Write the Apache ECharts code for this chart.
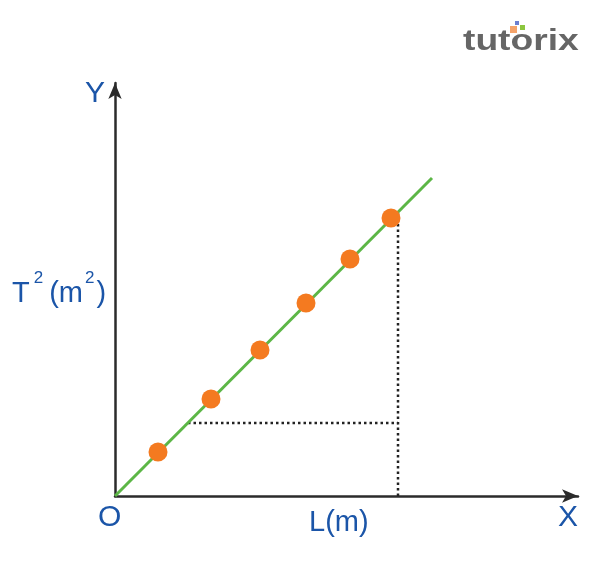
<!DOCTYPE html>
<html lang="en">
<head>
    <meta charset="UTF-8">
    <title>T2 vs L</title>
    <script src="https://cdn.jsdelivr.net/npm/echarts@6.0.0/dist/echarts.min.js"></script>
    <style>
        body { margin: 0; background: #fff; }
        #chart { width: 600px; height: 575px; }
    </style>
</head>
<body>
    <div id="chart"></div>
    <script>
        // measured points (L, T^2), arbitrary units
        const dotsL = [4.3, 9.6, 14.5, 19.1, 23.5, 27.6];
        const dotsT2 = [4.4, 9.7, 14.6, 19.3, 23.7, 27.8];
        // best-fit line
        const fitL = [0, 31.7];
        const fitT2 = [0, 31.8];
        // slope triangle guides
        const guideX = 28.3;
        const guideY = 7.3;
        const axisMaxX = 46.3;
        const axisMaxY = 41.3;

        const blue = '#1b55a8';
        const chart = echarts.init(document.getElementById('chart'));

        chart.setOption({
            animation: false,
            grid: { left: 115, right: 22, top: 83, bottom: 79 },
            xAxis: {
                type: 'value', min: 0, max: axisMaxX,
                axisLine: {
                    show: true, symbol: ['none', 'arrow'], symbolSize: [10, 16],
                    lineStyle: { color: '#2b2b2b', width: 2.5 }
                },
                axisTick: { show: false }, axisLabel: { show: false }, splitLine: { show: false }
            },
            yAxis: {
                type: 'value', min: 0, max: axisMaxY,
                axisLine: {
                    show: true, symbol: ['none', 'arrow'], symbolSize: [10, 16],
                    lineStyle: { color: '#2b2b2b', width: 2.5 }
                },
                axisTick: { show: false }, axisLabel: { show: false }, splitLine: { show: false }
            },
            series: [
                {
                    type: 'line',
                    data: [[guideX, 0], [guideX, guideX]],
                    showSymbol: false,
                    lineStyle: { color: '#222', width: 2.5, type: [2.5, 3] },
                    z: 1
                },
                {
                    type: 'line',
                    data: [[guideY, guideY], [guideX, guideY]],
                    showSymbol: false,
                    lineStyle: { color: '#222', width: 2.5, type: [2.5, 3] },
                    z: 1
                },
                {
                    type: 'line',
                    data: fitL.map((l, i) => [l, fitT2[i]]),
                    showSymbol: false,
                    lineStyle: { color: '#5cb646', width: 3 },
                    z: 2
                },
                {
                    type: 'scatter',
                    data: dotsL.map((l, i) => [l, dotsT2[i]]),
                    symbolSize: 19,
                    itemStyle: { color: '#f47a20', opacity: 1 },
                    z: 3
                }
            ],
            graphic: [
                { type: 'text', left: 85, top: 79, style: { text: 'Y', fill: blue, font: '30px Arial' } },
                { type: 'text', left: 558, top: 503, style: { text: 'X', fill: blue, font: '30px Arial' } },
                { type: 'text', left: 98, top: 503, style: { text: 'O', fill: blue, font: '30px Arial' } },
                { type: 'text', left: 309, top: 508, style: { text: 'L(m)', fill: blue, font: '29px Arial' } },
                {
                    type: 'text', left: 12, top: 270,
                    style: {
                        text: '{b|T}{s1|2}{b|(m}{s2|2}{b|)}',
                        rich: {
                            b: { fill: blue, font: '29px Arial', verticalAlign: 'bottom', lineHeight: 38 },
                            s1: { fill: blue, font: '17px Arial', verticalAlign: 'top', lineHeight: 38, padding: [0, 6, 0, 4] },
                            s2: { fill: blue, font: '17px Arial', verticalAlign: 'top', lineHeight: 38, padding: [0, 2, 0, 2] }
                        }
                    }
                },
                // logo
                { type: 'rect', shape: { x: 510, y: 26, width: 7, height: 7 }, style: { fill: '#f5a36a' } },
                { type: 'rect', shape: { x: 515, y: 21, width: 4, height: 4 }, style: { fill: '#6b7fd0' } },
                { type: 'rect', shape: { x: 520, y: 25, width: 5, height: 5 }, style: { fill: '#8cc63f' } },
                {
                    type: 'text', x: 463, y: 27, scaleX: 1.24,
                    style: { text: 'tutorix', fill: '#666', font: 'bold 30px Arial', x: 0, y: 0, verticalAlign: 'top' }
                }
            ]
        });
    </script>
</body>
</html>
